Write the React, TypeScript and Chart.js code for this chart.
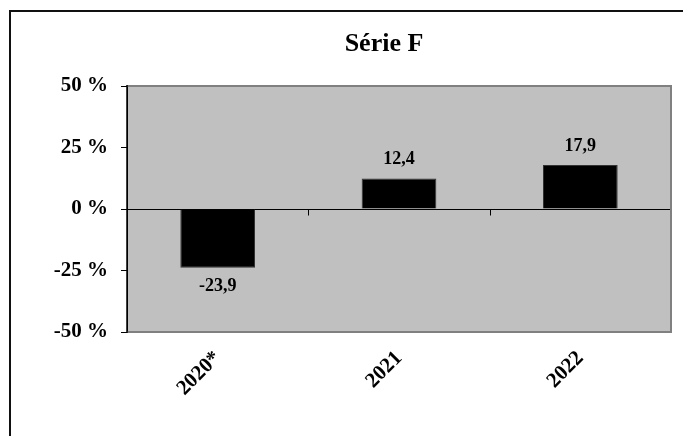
import React, { useEffect, useRef } from "react";
import { Chart, registerables } from "chart.js";

Chart.register(...registerables);

const categories = ["2020*", "2021", "2022"];
const values = [-23.9, 12.4, 17.9];
const valueLabels = ["-23,9", "12,4", "17,9"];
const yTickValues = [-50, -25, 0, 25, 50];
const titleText = "Série F";

const FONT = "'Liberation Serif', 'Times New Roman', serif";
const W = 683;
const H = 428;

const decorPlugin = {
  id: "decor",
  beforeDraw(chart: any) {
    const { ctx, chartArea: a } = chart;
    ctx.save();
    ctx.fillStyle = "#ffffff";
    ctx.fillRect(0, 0, chart.width, chart.height);
    // outer frame (extends past the visible area)
    ctx.fillStyle = "#111111";
    ctx.fillRect(1, 2, 2, chart.height);
    ctx.fillRect(1, 2, chart.width, 2);
    // plot background
    ctx.fillStyle = "#c0c0c0";
    ctx.fillRect(a.left, a.top, a.right - a.left, a.bottom - a.top);
    ctx.restore();
  },
  beforeDatasetsDraw(chart: any) {
    const { ctx, chartArea: a, scales } = chart;
    const y0 = Math.round(scales.y.getPixelForValue(0)) + 0.5;
    ctx.save();
    ctx.strokeStyle = "#000000";
    ctx.lineWidth = 1;
    ctx.beginPath();
    ctx.moveTo(a.left, y0);
    ctx.lineTo(a.right, y0);
    const xs = scales.x;
    const n = categories.length;
    for (let i = 0; i <= n; i++) {
      const p = i === 0 ? a.left : i === n ? a.right : (xs.getPixelForValue(i - 1) + xs.getPixelForValue(i)) / 2;
      const px = Math.round(p) + 0.5;
      ctx.moveTo(px, y0);
      ctx.lineTo(px, y0 + 6);
    }
    ctx.stroke();
    ctx.restore();
  },
  afterDatasetsDraw(chart: any) {
    const { ctx, chartArea: a } = chart;
    ctx.save();
    // plot border top/right/bottom
    ctx.strokeStyle = "#808080";
    ctx.lineWidth = 2;
    ctx.beginPath();
    ctx.moveTo(a.left, a.top);
    ctx.lineTo(a.right, a.top);
    ctx.lineTo(a.right, a.bottom);
    ctx.lineTo(a.left, a.bottom);
    ctx.stroke();
    // left axis line
    ctx.strokeStyle = "#000000";
    ctx.lineWidth = 1.5;
    ctx.beginPath();
    ctx.moveTo(a.left, a.top - 1);
    ctx.lineTo(a.left, a.bottom + 1);
    ctx.stroke();
    // data labels
    const meta = chart.getDatasetMeta(0);
    ctx.fillStyle = "#000000";
    ctx.font = `bold 18px ${FONT}`;
    ctx.textAlign = "center";
    meta.data.forEach((bar: any, i: number) => {
      const v = values[i];
      if (v >= 0) {
        ctx.textBaseline = "alphabetic";
        ctx.fillText(valueLabels[i], bar.x, bar.y - 14);
      } else {
        ctx.textBaseline = "top";
        ctx.fillText(valueLabels[i], bar.x, bar.y + 10);
      }
    });
    ctx.restore();
  },
  afterDraw(chart: any) {
    const { ctx } = chart;
    ctx.save();
    ctx.fillStyle = "#000000";
    ctx.font = `bold 26px ${FONT}`;
    ctx.textAlign = "center";
    ctx.textBaseline = "alphabetic";
    ctx.fillText(titleText, 376, 43);
    ctx.restore();
  },
};

export default function App() {
  const ref = useRef<HTMLCanvasElement | null>(null);
  useEffect(() => {
    if (!ref.current) return;
    const chart = new Chart(ref.current, {
      type: "bar",
      data: {
        labels: categories,
        datasets: [
          {
            data: values,
            backgroundColor: "#000000",
            borderColor: "#333333",
            borderWidth: 1,
            barPercentage: 0.412,
            categoryPercentage: 1,
          },
        ],
      },
      options: {
        responsive: false,
        animation: false,
        devicePixelRatio: 1,
        layout: { padding: { left: 0, right: 20, top: 78, bottom: 0 } },
        plugins: {
          legend: { display: false },
          title: { display: false },
          tooltip: { enabled: false },
        },
        scales: {
          x: {
            offset: true,
            grid: { display: false },
            border: { display: false },
            ticks: {
              color: "#000000",
              font: { family: FONT, size: 21, weight: "bold" },
              maxRotation: 45,
              minRotation: 45,
              padding: 6,
            },
            afterFit(scale: any) {
              scale.height = 104;
            },
          },
          y: {
            min: -50,
            max: 50,
            afterBuildTicks(scale: any) {
              scale.ticks = yTickValues.map((v) => ({ value: v }));
            },
            grid: {
              drawOnChartArea: false,
              drawTicks: true,
              tickLength: 6,
              color: "#000000",
              lineWidth: 1,
            },
            border: { display: true, color: "#000000", width: 1 },
            ticks: {
              color: "#000000",
              font: { family: FONT, size: 21, weight: "bold" },
              padding: 13,
              callback: (v: any) => `${v} %`,
            },
            afterFit(scale: any) {
              scale.width = 119;
            },
          },
        },
      },
      plugins: [decorPlugin],
    });
    return () => chart.destroy();
  }, []);
  return (
    <div>
      <canvas ref={ref} width={W} height={H} style={{ display: "block", width: W, height: H }} />
    </div>
  );
}
